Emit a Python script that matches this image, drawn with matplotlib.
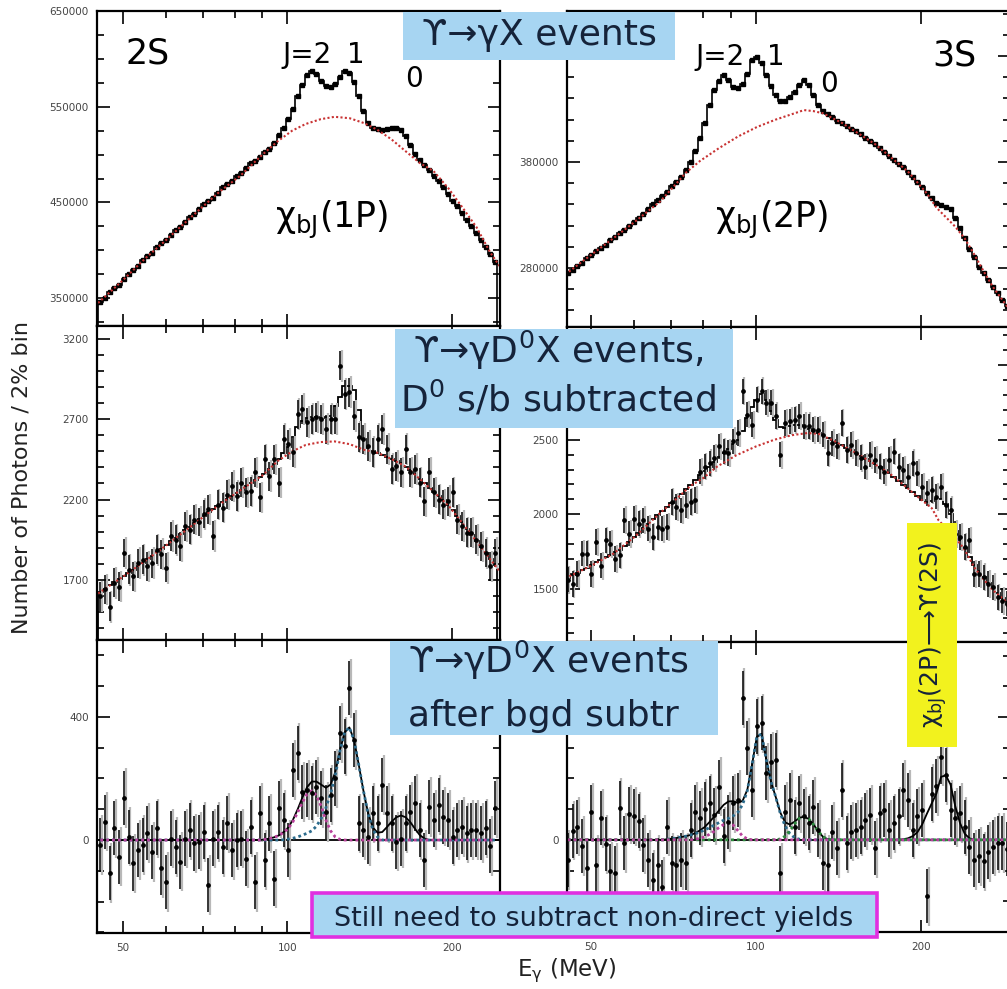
import numpy as np
import matplotlib
matplotlib.use('Agg')
import matplotlib.pyplot as plt
from matplotlib.patches import Rectangle
from matplotlib.ticker import FixedLocator, MultipleLocator, NullFormatter, FuncFormatter

plt.rcParams['font.family'] = ['DejaVu Sans']
plt.rcParams['mathtext.fontset'] = 'dejavusans'

W, H = 1007, 989

#%% binning: 2% bins in photon energy (MeV)
edges_l = 45 * 1.02 ** np.arange(86)      # 2S column
edges_r = 45 * 1.02 ** np.arange(95)      # 3S column
cent_l = np.sqrt(edges_l[:-1] * edges_l[1:])
cent_r = np.sqrt(edges_r[:-1] * edges_r[1:])

#%% top row: inclusive photon spectra (thousands of photons)
tl_counts = [346, 350, 356, 361, 364, 370, 375, 379, 384, 390,
             394, 397, 403, 408, 411, 416, 421, 424, 430, 435,
             438, 443, 448, 452, 455, 460, 466, 469, 472, 478,
             481, 486, 491, 493, 498, 503, 506, 512, 520, 528,
             537, 548, 561, 573, 583, 587, 584, 577, 572, 571,
             574, 581, 587, 585, 576, 561, 546, 533, 528, 527,
             526, 527, 528, 528, 526, 519, 510, 501, 494, 489,
             484, 478, 472, 466, 459, 452, 446, 439, 432, 425,
             418, 411, 404, 396, 388]
tl_bg_e = [45, 50, 55, 60, 67, 75, 82, 90, 96, 102, 108, 115, 122, 130, 138,
           146, 155, 165, 175, 185, 197, 209, 222, 235, 245]
tl_bg = [345, 369, 392, 411, 436, 461, 478, 500, 514, 525, 532, 537, 539.5, 538, 533,
         526, 516, 503, 491, 483, 465, 445, 424, 398, 383]

tr_counts = [275, 278, 282, 285, 289, 292, 296, 299, 302, 306, 309, 313, 316, 320, 323,
             327, 331, 336, 340, 344, 348, 352, 357, 361,
             366, 372, 380, 390, 403, 417, 434, 448, 456, 462,
             457, 451, 450, 454, 463, 476, 479, 473, 462, 452,
             443, 438, 438, 441, 446, 453, 457, 453, 443, 434,
             428, 425, 422, 419, 417,
             414, 411, 409, 406, 403, 400, 397,
             393, 389, 386, 382, 378, 375, 371,
             366, 361, 356, 351, 346, 341,
             339, 338, 336,
             327, 318, 308, 298, 290, 281, 275, 269, 262, 256, 250, 244]
tr_bg_e = [45, 50, 55, 60, 67, 72, 74.6, 79.1, 85.6, 92.7, 100.4, 108.6, 117.6, 122.3,
           127.3, 132.4, 143.3, 164.6, 189.1, 205, 213, 221.6, 230.5, 239.8, 249.5,
           259.6, 270.1, 289]
tr_bg = [274, 292, 308, 323, 343, 361, 370, 381, 393, 404, 413, 420, 426, 429,
         428, 426, 417, 397, 371, 350, 337, 328, 319, 308, 293,
         277, 262, 241]

#%% middle row: D0-tagged spectra, sideband subtracted
ml_data = [1596, 1640, 1533, 1681, 1658, 1867, 1763, 1721, 1804, 1825,
           1783, 1804, 1888, 1860, 1775, 1971, 1950, 1908, 2033, 2013,
           2075, 2060, 2110, 2138, 1975, 2169, 2150, 2231, 2283, 2221,
           2306, 2244, 2252, 2369, 2213, 2450, 2346, 2450, 2306, 2575,
           2544, 2494, 2731, 2763, 2681, 2700, 2713, 2700, 2638, 2700,
           2700, 3033, 2856, 2869, 2721, 2588, 2575, 2533, 2494, 2575,
           2638, 2513, 2388, 2408, 2369, 2513, 2369, 2388, 2306, 2190,
           2369, 2244, 2200, 2169, 2190, 2244, 2075, 2033, 1994, 1994,
           1950, 1908, 1867, 1783, 1867]
ml_err = 90
ml_fit = [1625, 1645, 1665, 1685, 1705, 1725, 1743, 1762, 1784, 1806,
          1828, 1850, 1872, 1893, 1916, 1939, 1962, 1985, 2008, 2031,
          2054, 2077, 2100, 2122, 2142, 2162, 2182, 2202, 2222, 2242,
          2262, 2282, 2302, 2322, 2342, 2362, 2390, 2420, 2450, 2490,
          2530, 2590, 2650, 2690, 2710, 2712, 2712, 2710, 2712, 2720,
          2780, 2840, 2906, 2906, 2880, 2760, 2580, 2520, 2500, 2492,
          2479, 2466, 2453, 2440, 2427, 2405, 2383, 2359, 2328, 2301,
          2274, 2247, 2220, 2194, 2167, 2133, 2095, 2057, 2019, 1981,
          1943, 1905, 1867, 1829, 1791]
ml_bg_e = [45, 50, 55, 60, 67, 75, 82, 90, 96, 102, 108, 115, 122, 130, 138,
           146, 155, 165, 175, 185, 197, 209, 222, 235, 245]
ml_bg = [1615, 1720, 1820, 1915, 2040, 2168, 2258, 2350, 2440, 2500, 2540, 2558, 2562, 2545, 2510,
         2492, 2453, 2403, 2326, 2250, 2164, 2053, 1939, 1829, 1750]

mr_data = [1560,
           1532, 1599, 1734, 1734, 1599, 1813, 1655, 1824, 1802, 1700,
           1723, 1959, 1869, 1971, 1937, 1959, 1903, 1847, 1914, 1903,
           1914, 2083, 2049, 2027, 2061, 2083, 2095, 2286, 2320, 2342,
           2380,
           2455, 2421, 2410, 2489, 2545, 2826, 2669, 2601, 2770, 2826,
           2748, 2748, 2658, 2399, 2613, 2624, 2635, 2658, 2590, 2590,
           2568, 2568, 2534, 2410, 2477, 2455, 2613, 2432, 2466, 2410,
           2380,
           2320, 2399, 2365, 2320, 2286, 2365, 2421, 2320, 2297, 2253,
           2342, 2275, 2185, 2140, 2162, 2117, 2185, 2061, 2027, 1869,
           1847, 1779, 1824, 1599, 1599, 1576, 1532, 1509, 1441, 1419,
           1400]
mr_err = 85
mr_fit = [1574, 1591, 1608, 1625, 1642, 1659, 1676, 1693, 1710, 1727, 1744, 1762,
          1785, 1815, 1845, 1875, 1905, 1935, 1965, 1995, 2020, 2047,
          2077, 2107, 2137, 2167, 2197, 2227, 2262,
          2290, 2320, 2350, 2385, 2412, 2440, 2470, 2500,
          2560, 2649, 2720, 2770, 2804, 2770, 2690,
          2630, 2585, 2580, 2590, 2600, 2601,
          2590, 2575, 2560, 2547,
          2530, 2513, 2496, 2479, 2462, 2445, 2428, 2412,
          2393, 2374, 2355, 2336, 2317, 2297, 2277,
          2251, 2225, 2199, 2173, 2147, 2120, 2095,
          2085, 2090, 2100, 2100, 2070, 2000,
          1890, 1830, 1770, 1710, 1660, 1620, 1580, 1540, 1505, 1470, 1440, 1410]
mr_bg_e = [45, 50, 55, 60, 67, 72, 76, 80, 85, 92, 100, 108, 116, 124, 130, 138, 146,
           155, 165, 175, 185, 197, 209, 215, 224, 232, 239, 250, 260, 270, 289]
mr_bg = [1570, 1652, 1735, 1845, 2010, 2110, 2190, 2240, 2320, 2395, 2455, 2500, 2530, 2545,
         2540, 2496, 2447, 2393, 2333, 2274, 2202, 2117, 2040, 1959, 1890, 1830, 1770,
         1640, 1560, 1490, 1395]

#%% bottom row: after background subtraction
bl_data = [-16, 60, -108, 38, -54, 136, 11, -76, -33, -16,
           22, -38, 38, -92, -136, 5, -22, -70, 5, 33,
           -11, -5, 27, -146, 5, 27, -22, 56, -33, 0,
           5, -60, 43, -136, 89, -65, 54, -125, 103, 65,
           -33, 228, 282, 157, 163, 152, 173, 136, 92, 146,
           200, 347, 304, 493, 325, 54, 33, 11, 87, 54,
           179, 87, 54, -5, 5, 54, 92, 119, 33, -65,
           108, 65, 114, 76, 65, 11, 33, 43, 22, 33,
           33, 22, 38, -20, 103]
bl_err = 88
# fitted chi_bJ(1P) line shapes, J = 2, 1, 0 (nonzero bins only)
bl_j2 = np.zeros(85)
bl_j2[34:53] = [0, 2, 5, 9, 15, 25, 38, 60, 90, 122, 150, 160, 145, 110, 65, 30, 10, 2, 0]
bl_j1 = np.zeros(85)
bl_j1[38:61] = [0, 1, 3, 6, 10, 16, 22, 30, 45, 70, 105, 150, 210, 290, 350, 366, 325, 245,
                160, 85, 35, 10, 0]
bl_j0 = np.zeros(85)
bl_j0[56:71] = [0, 2, 6, 14, 26, 42, 60, 74, 80, 74, 58, 36, 16, 5, 0]

br_data = [-65, 30, 43, -20, -92, 89, -81, 70, -15, -103,
           -108, 103, -10, 83, 76, 60, -16, -65, -130, -81,
           -152, 43, -76, -81, -65, -76, 33, 92, 72, 100,
           119, 80, 173, 11, 58, 119, 130, 461, 300, 163,
           369, 379, 217, 255, 260, -108, 92, 130, 43, 119,
           76, 54, 108, 33, -76, -81, 27, -27, 163, -11,
           27, 33, 43, 65, 81, -27, 87, 98, 33, 54,
           76, 163, 130, 33, 76, 98, -184, 150, 175, 271,
           210, 98, 72, 87, 43, -22, -65, -54, -70, -40,
           -22, -11, -11, -30]
br_err = 88
# fitted chi_bJ(2P) line shapes, J = 2, 1, 0, and chi_bJ(2P) -> Upsilon(2S) gamma
br_j2 = np.zeros(94)
br_j2[26:41] = [0, 2, 5, 10, 18, 28, 40, 50, 55, 48, 30, 12, 3, 0, 0]
br_j1 = np.zeros(94)
br_j1[20:51] = [0, 2, 4, 6, 9, 12, 16, 20, 26, 32, 40, 48, 56, 64, 70, 78, 90, 115, 160, 245,
                335, 345, 262, 190, 140, 85, 45, 20, 7, 2, 0]
br_j0 = np.zeros(94)
br_j0[44:57] = [0, 3, 12, 30, 52, 70, 75, 68, 50, 28, 10, 2, 0]
br_pk = np.zeros(94)
br_pk[70:88] = [0, 2, 5, 12, 25, 50, 85, 118, 150, 205, 210, 180, 110, 55, 20, 5, 0, 0]

#%% colours
RED = '#c83232'
MAG = '#b8409a'
BLUE = '#2c6b8c'
GREEN = '#2e8b3e'
BOXBLUE = '#a7d5f2'
TXT = '#15233a'
DOT = (0, (1, 1.1))

fig = plt.figure(figsize=(W / 100, H / 100), dpi=100)


def px_axes(x0, y0, x1, y1):
    return fig.add_axes([x0 / W, 1 - y1 / H, (x1 - x0) / W, (y1 - y0) / H])


def style(ax, xlim, ylim, major, minor, hidden=(), xlabels=False):
    # hidden: tick values whose labels sit under a highlight box in the original
    ax.set_xscale('log')
    ax.set_xlim(*xlim)
    ax.set_ylim(*ylim)
    ax.xaxis.set_major_locator(FixedLocator([50, 100, 200]))
    ax.xaxis.set_minor_locator(FixedLocator([60, 70, 80, 90]))
    ax.xaxis.set_minor_formatter(NullFormatter())
    if xlabels:
        ax.xaxis.set_major_formatter(FuncFormatter(lambda v, p: '%d' % v))
    else:
        ax.xaxis.set_major_formatter(NullFormatter())
    ax.yaxis.set_major_locator(FixedLocator(major))
    ax.yaxis.set_minor_locator(MultipleLocator(minor))
    ax.yaxis.set_major_formatter(FuncFormatter(
        lambda v, p: '' if round(v) in hidden else '%d' % v))
    ax.tick_params(which='both', direction='in', top=True, right=True,
                   labelsize=7.5, labelcolor='#444444', width=1.2)
    ax.tick_params(which='major', length=9, pad=6)
    ax.tick_params(which='minor', length=5)
    for s in ax.spines.values():
        s.set_linewidth(1.6)


ax_tl = px_axes(97, 11, 500, 326)
ax_ml = px_axes(97, 326, 500, 640)
ax_bl = px_axes(97, 640, 500, 933)
ax_tr = px_axes(567, 11, 1010, 327)
ax_mr = px_axes(567, 327, 1010, 642)
ax_br = px_axes(567, 642, 1010, 932)

XL = (44.8, 245)
XR = (45.3, 290)

#%% top panels
for ax, edges, cent, cnt, bge, bg in [(ax_tl, edges_l, cent_l, tl_counts, tl_bg_e, tl_bg),
                                      (ax_tr, edges_r, cent_r, tr_counts, tr_bg_e, tr_bg)]:
    cnt = np.array(cnt) * 1000
    ax.stairs(cnt, edges, color='k', lw=1.2)
    ax.plot(cent, cnt, 's', ms=2.2, color='k')
    ax.plot(bge, np.array(bg) * 1000, color=RED, lw=1.5, ls=DOT)

style(ax_tl, XL, (321000, 650000), [350000, 450000, 550000, 650000], 25000)
style(ax_tr, XR, (224300, 522500), [280000, 380000, 480000], 20000, hidden=(480000,))

#%% middle panels
for ax, edges, cent, dat, err, fit, bge, bg in [
        (ax_ml, edges_l, cent_l, ml_data, ml_err, ml_fit, ml_bg_e, ml_bg),
        (ax_mr, edges_r, cent_r, mr_data, mr_err, mr_fit, mr_bg_e, mr_bg)]:
    ax.errorbar(cent * 1.007, dat, yerr=err * 1.1, fmt='none', ecolor='#b8b8b8', elinewidth=1.6)
    ax.errorbar(cent, dat, yerr=err, fmt='o', ms=2.4, color='k', ecolor='k', elinewidth=1.1)
    ax.stairs(fit, edges, color='k', lw=1.3)
    ax.plot(bge, bg, color=RED, lw=1.5, ls=DOT)

style(ax_ml, XL, (1325, 3281), [1700, 2200, 2700, 3200], 100)
style(ax_mr, XR, (1142, 3257), [1500, 2000, 2500, 3000], 100, hidden=(3000,))

#%% bottom panels
for ax, cent, dat, err in [(ax_bl, cent_l, bl_data, bl_err), (ax_br, cent_r, br_data, br_err)]:
    ax.axhline(0, color='k', lw=1.3)
    ax.errorbar(cent * 1.007, dat, yerr=err * 1.1, fmt='none', ecolor='#b8b8b8', elinewidth=1.6)
    ax.errorbar(cent, dat, yerr=err, fmt='o', ms=2.4, color='k', ecolor='k', elinewidth=1.1)

ax_bl.plot(cent_l, bl_j2 + bl_j1 + bl_j0, color='k', lw=1.3)
ax_bl.plot(cent_l, bl_j1, color=BLUE, lw=2.0, ls=DOT)
ax_bl.plot(cent_l, bl_j2, color=MAG, lw=2.0, ls=DOT)

ax_br.plot(cent_r, br_j2 + br_j1 + br_j0 + br_pk, color='k', lw=1.3)
ax_br.plot(cent_r, br_j1, color=BLUE, lw=2.0, ls=DOT)
ax_br.plot(cent_r, br_j0, color=GREEN, lw=2.0, ls=DOT)
ax_br.plot(cent_r, br_j2, color=MAG, lw=2.0, ls=DOT)

style(ax_bl, XL, (-302, 650), [0, 400], 100, xlabels=True)
style(ax_br, XR, (-300, 644), [0, 400], 100, hidden=(400,), xlabels=True)
for ax in (ax_bl, ax_br):
    ax.tick_params(axis='x', which='major', pad=7)

#%% panel annotations
def ptext(x, y, s, size, **kw):
    fig.text(x / W, 1 - y / H, s, fontsize=size, color='k', va='baseline', **kw)

ptext(125, 63, '2S', 25)
ptext(282, 63, 'J=2', 20)
ptext(347, 63, '1', 20)
ptext(405, 87, '0', 20)
ptext(275, 228, 'χ$_{\\mathrm{bJ}}$(1P)', 25)
ptext(932, 65, '3S', 25)
ptext(695, 65, 'J=2', 20)
ptext(767, 65, '1', 20)
ptext(820, 92, '0', 20)
ptext(715, 228, 'χ$_{\\mathrm{bJ}}$(2P)', 25)

fig.text(22 / W, 1 - 478 / H, 'Number of Photons / 2% bin', rotation=90,
         ha='center', va='center', fontsize=16, color='#222222')
fig.text(567 / W, 1 - 971 / H, 'E$_{\\mathrm{γ}}$ (MeV)', ha='center', va='center',
         fontsize=16.5, color='#222222')

#%% highlight boxes
def box(x0, y0, x1, y1, face, edge=None, lw=0):
    fig.add_artist(Rectangle((x0 / W, 1 - y1 / H), (x1 - x0) / W, (y1 - y0) / H,
                             transform=fig.transFigure, facecolor=face,
                             edgecolor=edge if edge else face, linewidth=lw, zorder=10))

def btext(x, y, s, size=26, ha='center', **kw):
    fig.text(x / W, 1 - y / H, s, fontsize=size, color=TXT, ha=ha, va='baseline',
             zorder=11, **kw)

box(403, 12, 675, 60, BOXBLUE)
btext(539, 45, 'ϒ→γX events')

box(395, 329, 733, 428, BOXBLUE)
btext(558, 363, 'ϒ→γD$^0$X events,')
btext(558, 412, 'D$^0$ s/b subtracted')

box(390, 641, 718, 735, BOXBLUE)
btext(408, 673, 'ϒ→γD$^0$X events', ha='left')
btext(408, 726, 'after bgd subtr', ha='left')

box(312, 893, 877, 937, BOXBLUE, edge='#e030e0', lw=2.6)
btext(594, 926, 'Still need to subtract non-direct yields', size=19.5)

box(907, 523, 957, 747, '#f2f21e')
fig.text(933 / W, 1 - 635 / H, 'χ$_{\\mathrm{bJ}}$(2P)⟶ϒ(2S)', rotation=90, ha='center',
         va='center', fontsize=18, color=TXT, zorder=11)

fig.savefig('out.png', dpi=100)
